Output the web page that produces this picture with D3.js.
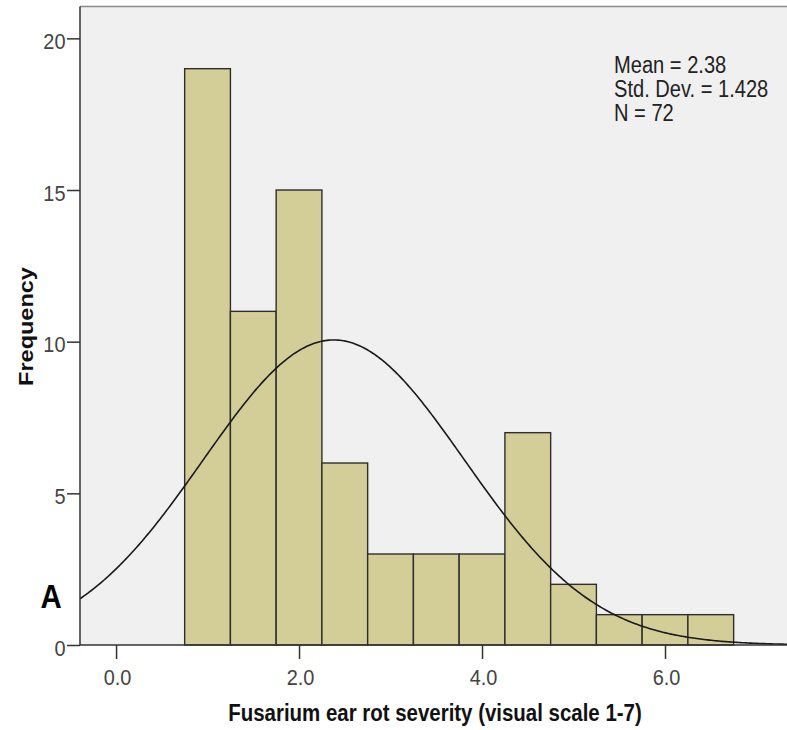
<!DOCTYPE html>
<html>
<head>
<meta charset="utf-8">
<script src="https://cdn.jsdelivr.net/npm/d3@7"></script>
<style>
  html, body { margin: 0; padding: 0; background: #fff; }
  svg { display: block; font-family: "Liberation Sans", Arial, sans-serif; }
</style>
</head>
<body>
<svg id="chart" width="787" height="730"></svg>
<script>
// Histogram bins: lower edge, count per bin
const binStarts = [0.75, 1.25, 1.75, 2.25, 2.75, 3.25, 3.75, 4.25, 4.75, 5.25, 5.75, 6.25];
const binWidth = 0.5;
const counts = [19, 11, 15, 6, 3, 3, 3, 7, 2, 1, 1, 1];
const xTicks = [0, 2, 4, 6];
const yTicks = [0, 5, 10, 15, 20];
const statLines = ["Mean = 2.38", "Std. Dev. = 1.428", "N = 72"];
const mean = 2.38, sd = 1.428, n = 72;

// Glyphs are drawn tall and narrow
const SX = 0.87;

const svg = d3.select("#chart");
const plot = { left: 80, top: 6.5, right: 790, bottom: 645 };

const x = d3.scaleLinear().domain([-0.394, 7.366]).range([plot.left, plot.right]);
const y = d3.scaleLinear().domain([0, 21.05]).range([plot.bottom, plot.top]);

// Plot background
svg.append("rect")
  .attr("x", plot.left).attr("y", plot.top)
  .attr("width", plot.right - plot.left).attr("height", plot.bottom - plot.top)
  .attr("fill", "#f0f0f0");
svg.append("line")
  .attr("x1", plot.left).attr("x2", plot.right)
  .attr("y1", plot.top).attr("y2", plot.top)
  .attr("stroke", "#8a8a8a").attr("stroke-width", 1.5);

// Bars
svg.append("g").selectAll("rect")
  .data(binStarts.map((s, i) => ({ s, c: counts[i] })))
  .join("rect")
  .attr("x", d => x(d.s))
  .attr("y", d => y(d.c))
  .attr("width", d => x(d.s + binWidth) - x(d.s))
  .attr("height", d => y(0) - y(d.c))
  .attr("fill", "#d3ce98")
  .attr("stroke", "#2e2e2e")
  .attr("stroke-width", 1.4);

// Fitted normal curve scaled to counts
const scaleK = n * binWidth / (sd * Math.sqrt(2 * Math.PI));
const curveX = d3.range(x.domain()[0], x.domain()[1] + 0.01, 0.02);
svg.append("path")
  .datum(curveX)
  .attr("fill", "none")
  .attr("stroke", "#1a1a1a")
  .attr("stroke-width", 1.6)
  .attr("d", d3.line()
    .x(d => x(d))
    .y(d => y(scaleK * Math.exp(-0.5 * ((d - mean) / sd) ** 2))));

// Axes
const yAxis = d3.axisLeft(y).tickValues(yTicks).tickFormat(d3.format("d")).tickSize(13).tickSizeOuter(0);
const gy = svg.append("g").attr("transform", `translate(${plot.left},0)`).call(yAxis);
gy.select(".domain").attr("stroke", "#333").attr("stroke-width", 1.5)
  .attr("d", `M0,${plot.top}V${plot.bottom}`);
gy.selectAll(".tick line").attr("stroke", "#333").attr("stroke-width", 1.5);
gy.selectAll(".tick text")
  .attr("font-size", 22.9).attr("fill", "#444")
  .attr("x", null).attr("dy", null)
  .attr("transform", `translate(-14.5,10.3) scale(${SX},1)`);

const xAxis = d3.axisBottom(x).tickValues(xTicks).tickFormat(d3.format(".1f")).tickSize(14).tickSizeOuter(0);
const gx = svg.append("g").attr("transform", `translate(0,${plot.bottom})`).call(xAxis);
gx.select(".domain").attr("stroke", "#333").attr("stroke-width", 1.5)
  .attr("d", `M${plot.left},0H${plot.right}`);
gx.selectAll(".tick line").attr("stroke", "#333").attr("stroke-width", 1.5);
gx.selectAll(".tick text")
  .attr("font-size", 22.9).attr("fill", "#444")
  .attr("y", null).attr("dy", null)
  .attr("transform", `translate(1,39.5) scale(${SX},1)`);

// Axis titles
svg.append("text")
  .attr("transform", `translate(435,721) scale(${SX},1)`)
  .attr("text-anchor", "middle")
  .attr("font-size", 23.5).attr("font-weight", "bold").attr("fill", "#111")
  .text("Fusarium ear rot severity (visual scale 1-7)");
svg.append("text")
  .attr("transform", `translate(33,326.5) rotate(-90) scale(1,${SX})`)
  .attr("text-anchor", "middle")
  .attr("font-size", 23.5).attr("font-weight", "bold").attr("fill", "#111")
  .text("Frequency");

// Panel letter
svg.append("text")
  .attr("transform", "translate(40.5,608) scale(0.89,1)")
  .attr("font-size", 33).attr("font-weight", "bold").attr("fill", "#000")
  .text("A");

// Summary statistics
svg.append("g").selectAll("text")
  .data(statLines)
  .join("text")
  .attr("transform", (d, i) => `translate(614,${73 + i * 24}) scale(${SX},1)`)
  .attr("font-size", 23.1).attr("fill", "#222")
  .text(d => d);
</script>
</body>
</html>
